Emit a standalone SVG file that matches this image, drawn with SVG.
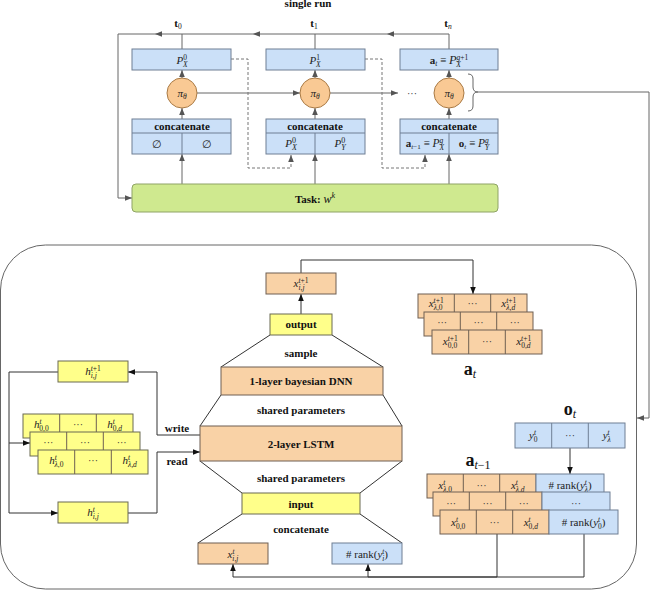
<svg xmlns="http://www.w3.org/2000/svg" width="651" height="591" viewBox="0 0 651 591">
<defs>
<style>
.blue{fill:#cbe0f8;stroke:#6f7f94;stroke-width:1}
.org{fill:#f9d2a6;stroke:#6e5f52;stroke-width:1}
.yel{fill:#ffff8a;stroke:#6b6b52;stroke-width:1}
.grn{fill:#cfe98f;stroke:#8fa366;stroke-width:1}
.cir{fill:#f9c994;stroke:#a97a45;stroke-width:1}
.div{stroke:#6e5f52;stroke-width:1}
.divb{stroke:#6f7f94;stroke-width:1}
.b{font-family:"Liberation Serif",serif;font-weight:bold;font-size:11px;text-anchor:middle;fill:#111}
.m{font-family:"Liberation Serif",serif;font-style:italic;font-size:11px;text-anchor:middle;fill:#222}
.u{font-style:normal}
.bf{font-style:normal;font-weight:bold}
.s{font-size:7.5px}
.d{font-family:"Liberation Serif",serif;font-size:10px;text-anchor:middle;fill:#333}
.cg{fill:none;stroke:#666;stroke-width:1}
.cd{fill:none;stroke:#777;stroke-width:1;stroke-dasharray:3,2}
.ck{fill:none;stroke:#333;stroke-width:1}
.big{font-family:"Liberation Serif",serif;font-weight:bold;font-size:18px;text-anchor:middle;fill:#111}
</style>
<marker id="ag" viewBox="0 0 10 10" refX="10" refY="5" markerWidth="7" markerHeight="7" orient="auto" markerUnits="userSpaceOnUse"><path d="M0,1 L10,5 L0,9 z" fill="#555"/></marker>
<marker id="ak" viewBox="0 0 10 10" refX="10" refY="5" markerWidth="7" markerHeight="7" orient="auto" markerUnits="userSpaceOnUse"><path d="M0,1 L10,5 L0,9 z" fill="#111"/></marker>
</defs>
<rect width="651" height="591" fill="#ffffff"/>

<!-- big rounded frame -->
<rect id="frame" x="0.5" y="245" width="636" height="344" rx="45" ry="45" fill="none" stroke="#666" stroke-width="1"/>

<g id="top-labels">
<text class="b" x="308" y="7">single run</text>
<text class="b" x="178" y="27">t<tspan class="s" dy="2" font-weight="normal">0</tspan></text>
<text class="b" x="314" y="27">t<tspan class="s" dy="2" font-weight="normal">1</tspan></text>
<text class="b" x="448" y="27">t<tspan class="s" dy="2" font-weight="normal" font-style="italic">n</tspan></text>
</g>

<g id="connectors">
<!-- top -->
<line class="cg" x1="182" y1="49" x2="182" y2="34"/>
<line class="cg" x1="315" y1="49" x2="315" y2="34"/>
<line class="cg" x1="449" y1="49" x2="449" y2="34"/>
<path class="cg" d="M449,34 H387" marker-end="url(#ag)"/>
<path class="cg" d="M387,34 H253" marker-end="url(#ag)"/>
<path class="cg" d="M253,34 H155" marker-end="url(#ag)"/>
<path class="cg" d="M155,34 H118 V198 H132" marker-end="url(#ag)"/>
<path class="cg" d="M182,78 V70" marker-end="url(#ag)"/>
<path class="cg" d="M315,78 V70" marker-end="url(#ag)"/>
<path class="cg" d="M449,78 V70" marker-end="url(#ag)"/>
<path class="cg" d="M182,119 V108" marker-end="url(#ag)"/>
<path class="cg" d="M315,119 V108" marker-end="url(#ag)"/>
<path class="cg" d="M449,119 V108" marker-end="url(#ag)"/>
<path class="cg" d="M182,184 V154" marker-end="url(#ag)"/>
<path class="cg" d="M315,184 V154" marker-end="url(#ag)"/>
<path class="cg" d="M449,184 V154" marker-end="url(#ag)"/>
<path class="cg" d="M197,93 H300" marker-end="url(#ag)"/>
<path class="cg" d="M330,93 H398" marker-end="url(#ag)"/>
<path class="cd" d="M231,59 H248 V168 H291 V155" marker-end="url(#ag)"/>
<path class="cd" d="M365,59 H382 V168 H425 V155" marker-end="url(#ag)"/>
<path class="cg" d="M468,74 Q473,74 473,79 V87 Q473,92 478,92 Q473,92 473,97 V106 Q473,111 468,111"/>
<path class="cg" d="M478,92 H649 V418 H637" marker-end="url(#ag)"/>
<!-- bottom -->
<path class="ck" d="M301,273 V260 H473 V294" marker-end="url(#ak)"/>
<path class="ck" d="M301,314 V294" marker-end="url(#ak)"/>
<path class="ck" d="M200,435 H157 V372 H128" marker-end="url(#ak)"/>
<path class="ck" d="M128,513 H157 V452 H200" marker-end="url(#ak)"/>
<path class="ck" d="M58,372 H9 V513 H58" marker-end="url(#ak)"/>
<path class="ck" d="M9,443 H30" marker-end="url(#ak)"/>
<path class="ck" d="M570,448 V474" marker-end="url(#ak)"/>
<path class="ck" d="M497,534 V577 H233 V564" marker-end="url(#ak)"/>
<path class="ck" d="M584,534 V577 H368 V564" marker-end="url(#ak)"/>
<!-- trapezoid sides -->
<path class="ck" d="M270,335 L221,367 M332,335 L383,367"/>
<path class="ck" d="M221,395 L200,426 M383,395 L402,426"/>
<path class="ck" d="M200,461 L242,493 M402,461 L360,493"/>
<path class="ck" d="M242,514 L198,543 M360,514 L402,543"/>
</g>

<!-- top column 1 -->
<g id="P0">
<rect class="blue" x="132" y="49" width="99" height="21"/>
<text class="m" x="182" y="64" font-size="12">P<tspan class="s" font-size="8" dy="-4" font-style="normal">0</tspan><tspan class="s" font-size="8" dx="-4" dy="7">X</tspan></text>
</g>
<g id="P1">
<rect class="blue" x="266" y="49" width="99" height="21"/>
<text class="m" x="315" y="64" font-size="12">P<tspan class="s" font-size="8" dy="-4" font-style="normal">1</tspan><tspan class="s" font-size="8" dx="-4" dy="7">X</tspan></text>
</g>
<g id="P2">
<rect class="blue" x="400" y="49" width="98" height="21"/>
<text class="m" x="449" y="64" font-size="11.5"><tspan class="bf">a</tspan><tspan class="s" dy="2">t</tspan><tspan class="u" dy="-2"> ≡ </tspan><tspan font-size="12.5">P</tspan><tspan class="s" font-size="8" dy="-4">g</tspan><tspan class="s u" font-size="8">+1</tspan><tspan class="s" font-size="8" dx="-12" dy="7">X</tspan></text>
</g>
<g id="pi0"><circle class="cir" cx="182" cy="93" r="15"/><text class="m" x="182" y="97" font-size="12">π<tspan class="s" font-size="8" dy="2">θ</tspan></text></g>
<g id="pi1"><circle class="cir" cx="315" cy="93" r="15"/><text class="m" x="315" y="97" font-size="12">π<tspan class="s" font-size="8" dy="2">θ</tspan></text></g>
<g id="pi2"><circle class="cir" cx="449" cy="93" r="15"/><text class="m" x="449" y="97" font-size="12">π<tspan class="s" font-size="8" dy="2">θ</tspan></text></g>
<text class="d" x="412" y="97">···</text>

<g id="concat0">
<rect class="blue" x="132" y="119" width="99" height="35"/>
<line class="divb" x1="132" y1="133" x2="231" y2="133"/>
<line class="divb" x1="182" y1="133" x2="182" y2="154"/>
<text class="b" x="182" y="130">concatenate</text>
<text class="m u" x="157" y="148">∅</text>
<text class="m u" x="207" y="148">∅</text>
</g>
<g id="concat1">
<rect class="blue" x="266" y="119" width="99" height="35"/>
<line class="divb" x1="266" y1="133" x2="365" y2="133"/>
<line class="divb" x1="315" y1="133" x2="315" y2="154"/>
<text class="b" x="315" y="130">concatenate</text>
<text class="m" x="291" y="147" font-size="12">P<tspan font-size="8" dy="-4" font-style="normal">0</tspan><tspan font-size="8" dx="-4" dy="7">X</tspan></text>
<text class="m" x="340" y="147" font-size="12">P<tspan font-size="8" dy="-4" font-style="normal">0</tspan><tspan font-size="8" dx="-4" dy="7">Y</tspan></text>
</g>
<g id="concat2">
<rect class="blue" x="400" y="119" width="98" height="35"/>
<line class="divb" x1="400" y1="133" x2="498" y2="133"/>
<line class="divb" x1="449" y1="133" x2="449" y2="154"/>
<text class="b" x="449" y="130">concatenate</text>
<text class="m" x="425" y="147" font-size="10.5"><tspan class="bf">a</tspan><tspan font-size="7" dy="2">t</tspan><tspan font-size="7" class="u">−1</tspan><tspan class="u" dy="-2"> ≡ </tspan><tspan font-size="11.5">P</tspan><tspan font-size="7.5" dy="-4">g</tspan><tspan font-size="7.5" dx="-3.7" dy="7">X</tspan></text>
<text class="m" x="474" y="147" font-size="10.5"><tspan class="bf">o</tspan><tspan font-size="7" dy="2">t</tspan><tspan class="u" dy="-2"> ≡ </tspan><tspan font-size="11.5">P</tspan><tspan font-size="7.5" dy="-4">g</tspan><tspan font-size="7.5" dx="-3.7" dy="7">Y</tspan></text>
</g>
<g id="task">
<rect class="grn" x="132" y="184" width="366" height="28" rx="4"/>
<text class="b" x="315" y="203">Task: <tspan font-weight="normal" font-style="italic" font-size="12">w</tspan><tspan font-weight="normal" font-style="italic" font-size="8" dy="-5">k</tspan></text>
</g>

<!-- bottom network -->
<g id="xnext">
<rect class="org" x="266" y="273" width="70" height="21"/>
<text class="m" x="301" y="287">x<tspan class="s" dy="-4">t</tspan><tspan class="s u">+1</tspan><tspan class="s" dx="-10" dy="7">i,j</tspan></text>
</g>
<g id="output"><rect class="yel" x="270" y="314" width="62" height="21"/><text class="b" x="301" y="328">output</text></g>
<text class="b" x="301" y="357">sample</text>
<g id="dnn"><rect class="org" x="221" y="367" width="162" height="28"/><text class="b" x="301" y="385">1-layer bayesian DNN</text></g>
<text class="b" x="301" y="414">shared parameters</text>
<g id="lstm"><rect class="org" x="200" y="426" width="202" height="35"/><text class="b" x="301" y="448">2-layer LSTM</text></g>
<text class="b" x="301" y="482">shared parameters</text>
<g id="input"><rect class="yel" x="242" y="493" width="118" height="21"/><text class="b" x="301" y="508">input</text></g>
<text class="b" x="301" y="533">concatenate</text>
<g id="xcur">
<rect class="org" x="198" y="543" width="70" height="21"/>
<text class="m" x="233" y="558">x<tspan class="s" dy="-4">t</tspan><tspan class="s" dx="-2.2" dy="7">i,j</tspan></text>
</g>
<g id="rank">
<rect class="blue" x="332" y="543" width="70" height="21"/>
<text class="m u" x="367" y="558"># rank(<tspan font-style="italic">y</tspan><tspan class="s" font-style="italic" dy="-4">t</tspan><tspan class="s" font-style="italic" dx="-2.2" dy="7">i</tspan><tspan dy="-3">)</tspan></text>
</g>
<text class="b" x="177" y="432">write</text>
<text class="b" x="177" y="465">read</text>

<!-- hidden state boxes -->
<g id="hnext">
<rect class="yel" x="58" y="361" width="70" height="21"/>
<text class="m" x="93" y="375">h<tspan class="s" dy="-4">t</tspan><tspan class="s u">+1</tspan><tspan class="s" dx="-10" dy="7">i,j</tspan></text>
</g>
<g id="hcur">
<rect class="yel" x="58" y="502" width="70" height="21"/>
<text class="m" x="93" y="516">h<tspan class="s" dy="-4">t</tspan><tspan class="s" dx="-2.2" dy="7">i,j</tspan></text>
</g>
<g id="hgrid">
<rect class="yel" x="23" y="414" width="110" height="24"/>
<line class="div" x1="59.7" y1="414" x2="59.7" y2="438"/><line class="div" x1="96.3" y1="414" x2="96.3" y2="438"/>
<text class="m" x="41.3" y="428">h<tspan class="s" dy="-4">t</tspan><tspan class="s u" dx="-2.2" dy="7">0,0</tspan></text>
<text class="d" x="78" y="428">···</text>
<text class="m" x="114.7" y="428">h<tspan class="s" dy="-4">t</tspan><tspan class="s" dx="-2.2" dy="7"><tspan class="u">0,</tspan>d</tspan></text>
<rect class="yel" x="30" y="432" width="110" height="24"/>
<line class="div" x1="66.7" y1="432" x2="66.7" y2="456"/><line class="div" x1="103.3" y1="432" x2="103.3" y2="456"/>
<text class="d" x="48.3" y="446">···</text><text class="d" x="85" y="446">···</text><text class="d" x="121.7" y="446">···</text>
<rect class="yel" x="38" y="450" width="110" height="24"/>
<line class="div" x1="74.7" y1="450" x2="74.7" y2="474"/><line class="div" x1="111.3" y1="450" x2="111.3" y2="474"/>
<text class="m" x="56.3" y="464">h<tspan class="s" dy="-4">t</tspan><tspan class="s" dx="-2.2" dy="7">λ<tspan class="u">,0</tspan></tspan></text>
<text class="d" x="93" y="464">···</text>
<text class="m" x="129.7" y="464">h<tspan class="s" dy="-4">t</tspan><tspan class="s" dx="-2.2" dy="7">λ,d</tspan></text>
</g>

<!-- a_t grid -->
<g id="at">
<rect class="org" x="418" y="294" width="109" height="24"/>
<line class="div" x1="454.3" y1="294" x2="454.3" y2="318"/><line class="div" x1="490.7" y1="294" x2="490.7" y2="318"/>
<text class="m" x="436.2" y="307">x<tspan class="s" dy="-4">t</tspan><tspan class="s u">+1</tspan><tspan class="s" dx="-10" dy="7">λ<tspan class="u">,0</tspan></tspan></text>
<text class="d" x="472.5" y="307">···</text>
<text class="m" x="508.8" y="307">x<tspan class="s" dy="-4">t</tspan><tspan class="s u">+1</tspan><tspan class="s" dx="-10" dy="7">λ,d</tspan></text>
<rect class="org" x="424" y="312" width="109" height="24"/>
<line class="div" x1="460.3" y1="312" x2="460.3" y2="336"/><line class="div" x1="496.7" y1="312" x2="496.7" y2="336"/>
<text class="d" x="442.2" y="326">···</text><text class="d" x="478.5" y="326">···</text><text class="d" x="514.8" y="326">···</text>
<rect class="org" x="432" y="330" width="110" height="24"/>
<line class="div" x1="468.7" y1="330" x2="468.7" y2="354"/><line class="div" x1="505.3" y1="330" x2="505.3" y2="354"/>
<text class="m" x="450.3" y="345">x<tspan class="s" dy="-4">t</tspan><tspan class="s u">+1</tspan><tspan class="s u" dx="-10" dy="7">0,0</tspan></text>
<text class="d" x="487" y="345">···</text>
<text class="m" x="523.7" y="345">x<tspan class="s" dy="-4">t</tspan><tspan class="s u">+1</tspan><tspan class="s" dx="-10" dy="7"><tspan class="u">0,</tspan>d</tspan></text>
<text class="big" x="470" y="375">a<tspan font-size="12" font-style="italic" font-weight="normal" dy="3">t</tspan></text>
</g>

<!-- o_t -->
<g id="ot">
<text class="big" x="570" y="415">o<tspan font-size="12" font-style="italic" font-weight="normal" dy="3">t</tspan></text>
<rect class="blue" x="515" y="423" width="110" height="25"/>
<line class="divb" x1="551.7" y1="423" x2="551.7" y2="448"/><line class="divb" x1="588.3" y1="423" x2="588.3" y2="448"/>
<text class="m" x="533.3" y="439">y<tspan class="s" dy="-4">t</tspan><tspan class="s u" dx="-2.2" dy="7">0</tspan></text>
<text class="d" x="570" y="439">···</text>
<text class="m" x="606.7" y="439">y<tspan class="s" dy="-4">t</tspan><tspan class="s" dx="-2.2" dy="7">λ</tspan></text>
</g>

<!-- a_{t-1} grid -->
<g id="atm1">
<text class="big" x="478" y="466">a<tspan font-size="12" font-style="italic" font-weight="normal" dy="3">t</tspan><tspan font-size="12" font-weight="normal">−1</tspan></text>
<rect class="org" x="427" y="474" width="109" height="24"/>
<rect class="blue" x="536" y="474" width="68" height="24"/>
<line class="div" x1="463.3" y1="474" x2="463.3" y2="498"/><line class="div" x1="499.7" y1="474" x2="499.7" y2="498"/>
<text class="m" x="445.2" y="489">x<tspan class="s" dy="-4">t</tspan><tspan class="s" dx="-2.2" dy="7">λ<tspan class="u">,0</tspan></tspan></text>
<text class="d" x="481.5" y="489">···</text>
<text class="m" x="517.8" y="489">x<tspan class="s" dy="-4">t</tspan><tspan class="s" dx="-2.2" dy="7">λ,d</tspan></text>
<text class="m u" x="570" y="489"># rank(<tspan font-style="italic">y</tspan><tspan class="s" font-style="italic" dy="-4">t</tspan><tspan class="s" font-style="italic" dx="-2.2" dy="7">λ</tspan><tspan dy="-3">)</tspan></text>
<rect class="org" x="433" y="492" width="109" height="24"/>
<rect class="blue" x="542" y="492" width="68" height="24"/>
<line class="div" x1="469.3" y1="492" x2="469.3" y2="516"/><line class="div" x1="505.7" y1="492" x2="505.7" y2="516"/>
<text class="d" x="451.2" y="507">···</text><text class="d" x="487.5" y="507">···</text><text class="d" x="523.8" y="507">···</text><text class="d" x="576" y="507">···</text>
<rect class="org" x="440" y="510" width="109" height="24"/>
<rect class="blue" x="549" y="510" width="69" height="24"/>
<line class="div" x1="476.3" y1="510" x2="476.3" y2="534"/><line class="div" x1="512.7" y1="510" x2="512.7" y2="534"/>
<text class="m" x="458.2" y="526">x<tspan class="s" dy="-4">t</tspan><tspan class="s u" dx="-2.2" dy="7">0,0</tspan></text>
<text class="d" x="494.5" y="526">···</text>
<text class="m" x="530.8" y="526">x<tspan class="s" dy="-4">t</tspan><tspan class="s" dx="-2.2" dy="7"><tspan class="u">0,</tspan>d</tspan></text>
<text class="m u" x="583.5" y="526"># rank(<tspan font-style="italic">y</tspan><tspan class="s" font-style="italic" dy="-4">t</tspan><tspan class="s u" dx="-2.2" dy="7">0</tspan><tspan dy="-3">)</tspan></text>
</g>
</svg>
